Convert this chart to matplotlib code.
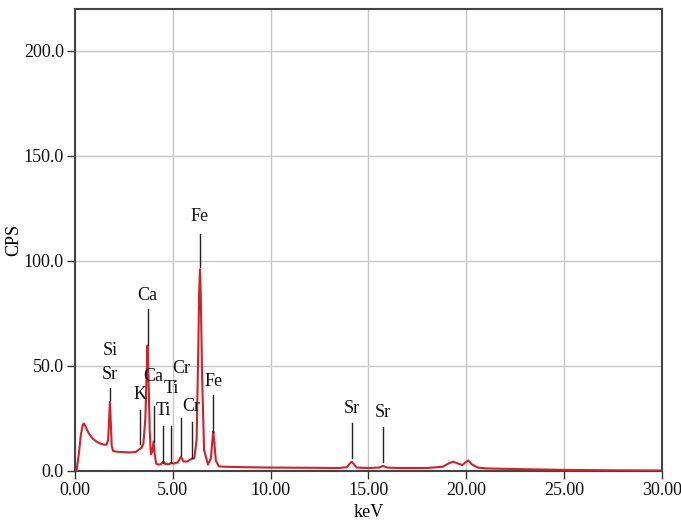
import matplotlib
matplotlib.use("Agg")
import matplotlib.pyplot as plt

plt.rcParams['font.family'] = ['Liberation Serif', 'DejaVu Serif']

# Spectrum
energy = [0.00, 0.08, 0.20, 0.30, 0.40, 0.46, 0.55, 0.70, 0.90, 1.10, 1.30, 1.50, 1.62, 1.70,
          1.75, 1.79, 1.83, 1.88, 1.95, 2.10, 2.40, 2.80, 3.10, 3.25, 3.32, 3.40, 3.50, 3.60,
          3.66, 3.71, 3.76, 3.82, 3.88, 3.95, 4.02, 4.08, 4.15, 4.25, 4.40, 4.51, 4.62, 4.80,
          4.93, 5.05, 5.25, 5.42, 5.55, 5.75, 5.96, 6.10, 6.22, 6.30, 6.35, 6.39, 6.43, 6.50,
          6.60, 6.80, 6.95, 7.02, 7.07, 7.12, 7.20, 7.35, 7.60, 8.5, 10.0, 12.0, 13.5, 13.9,
          14.05, 14.14, 14.23, 14.4, 15.0, 15.55, 15.75, 15.95, 16.5, 18.0, 18.8, 19.1, 19.33,
          19.55, 19.8, 19.95, 20.1, 20.3, 20.6, 21.0, 22.0, 23.0, 25.0, 27.5, 30.0]
cps = [0.0, 0.0, 8.0, 17.0, 22.0, 22.6, 21.0, 18.0, 15.5, 14.0, 13.0, 12.5, 12.5, 15.0,
       25.0, 33.0, 24.0, 12.0, 9.5, 9.2, 9.0, 8.8, 9.0, 10.0, 10.5, 11.0, 13.0, 25.0,
       45.0, 59.7, 45.0, 20.0, 8.0, 9.0, 14.0, 8.0, 3.5, 3.0, 3.2, 4.5, 3.3, 3.2,
       3.8, 3.5, 4.0, 6.8, 4.5, 4.5, 5.8, 6.0, 15.0, 55.0, 85.0, 96.0, 85.0, 45.0,
       10.0, 3.0, 6.0, 14.0, 18.8, 14.0, 5.0, 2.2, 2.0, 1.8, 1.6, 1.5, 1.4, 1.8,
       3.5, 4.4, 3.5, 1.6, 1.4, 1.6, 2.4, 1.6, 1.4, 1.4, 2.0, 3.6, 4.4,
       3.6, 2.8, 4.0, 5.0, 3.0, 1.6, 1.2, 1.0, 0.8, 0.5, 0.3, 0.2]

# Peak labels: text, line energy, label height, line top, line bottom
label_text = ["Fe", "Ca", "Si", "K", "Ca", "Ti", "Ti", "Cr", "Cr", "Fe", "Sr", "Sr"]
label_energy = [6.39, 3.71, 1.79, 3.32, 4.02, 4.51, 4.93, 5.42, 5.96, 7.07, 14.14, 15.75]
label_y = [121.2, 83.5, 57.3, 36.3, 44.9, 28.6, 39.1, 48.7, 30.5, 42.6, 29.5, 27.8]
line_top = [112.6, 77.3, 39.6, 29.1, 31.0, 21.5, 21.5, 25.3, 23.4, 36.3, 22.9, 21.0]
line_bottom = [96.9, 60.1, 33.9, 12.9, 13.8, 4.0, 4.0, 7.6, 6.2, 18.6, 6.2, 4.3]
extra_text = "Sr"
extra_energy = 1.79
extra_y = 45.8

xticks = [0, 5, 10, 15, 20, 25, 30]
yticks = [0, 50, 100, 150, 200]

fig = plt.figure(figsize=(6.81, 5.25), dpi=100)
ax = fig.add_axes([0.110, 0.103, 0.862, 0.880])

ax.plot(energy, cps, color='#d42028', lw=1.5, zorder=3)

for t, e, ly, lt, lb in zip(label_text, label_energy, label_y, line_top, line_bottom):
    ax.text(e, ly, t, ha='center', va='center', fontsize=13, color='#111111', zorder=4)
    ax.plot([e, e], [lb, lt], color='#222222', lw=1.0, zorder=4)
ax.text(extra_energy, extra_y, extra_text, ha='center', va='center', fontsize=13,
        color='#111111', zorder=4)

ax.set_xlim(0, 30)
ax.set_ylim(0, 220)
ax.set_xticks(xticks)
ax.set_xticklabels([f"{v:.2f}" for v in xticks])
ax.set_yticks(yticks)
ax.set_yticklabels([f"{v:.1f}" for v in yticks])
ax.grid(True, color='#c8c8c8', lw=1.0, zorder=0)
ax.tick_params(axis='both', direction='out', length=6, width=1, colors='#333333',
               labelsize=13, labelcolor='#111111', pad=2)
for s in ax.spines.values():
    s.set_color('#444444')
    s.set_linewidth(1.5)
ax.set_xlabel('keV', fontsize=13)
ax.set_ylabel('CPS', fontsize=13)
ax.xaxis.set_label_coords(0.5, -0.072)
ax.yaxis.set_label_coords(-0.090, 0.5)

fig.savefig('out.png', dpi=100)
